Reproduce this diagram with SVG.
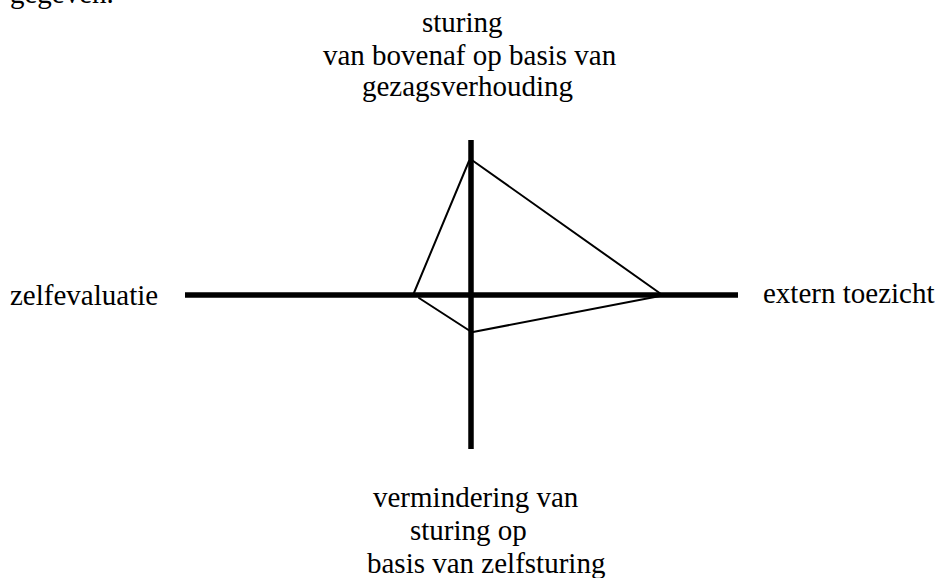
<svg xmlns="http://www.w3.org/2000/svg" width="936" height="578" viewBox="0 0 936 578">
<style>
text{font-family:"Liberation Serif","Times New Roman",serif;font-size:29px;fill:#000}
.axis{stroke:#000;stroke-width:5.5;fill:none}
.edge{stroke:#000;stroke-width:2;fill:none;stroke-linecap:round}
</style>
<rect width="936" height="578" fill="#fff"/>
<text x="10" y="3">gegeven.</text>
<g id="axes">
<line class="axis" x1="185" y1="295" x2="738" y2="295"/>
<line class="axis" x1="471" y1="140" x2="471" y2="449"/>
</g>
<g id="connectors">
<line class="edge" x1="469" y1="161" x2="413.5" y2="294"/>
<line class="edge" x1="472.5" y1="160.5" x2="661" y2="294"/>
<line class="edge" x1="419" y1="298" x2="470" y2="331"/>
<line class="edge" x1="473" y1="332" x2="660" y2="296"/>
</g>
<g id="top-label">
<text x="422" y="32">sturing</text>
<text x="323" y="65">van bovenaf op basis van</text>
<text x="362" y="96">gezagsverhouding</text>
</g>
<g id="left-label"><text x="10" y="305">zelfevaluatie</text></g>
<g id="right-label"><text x="763" y="303">extern toezicht</text></g>
<g id="bottom-label">
<text x="373" y="507">vermindering van</text>
<text x="410" y="540">sturing op</text>
<text x="367" y="573">basis van zelfsturing</text>
</g>
</svg>
